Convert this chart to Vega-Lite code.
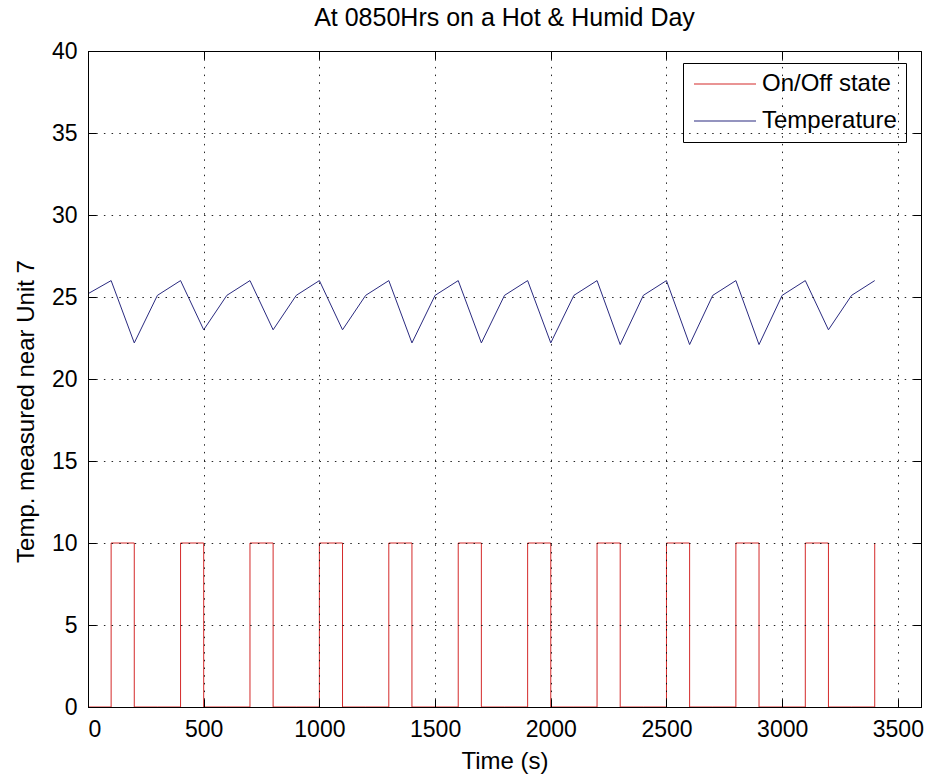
{
  "$schema": "https://vega.github.io/schema/vega-lite/v6.json",
  "width": 833,
  "height": 656,
  "autosize": {"type": "none"},
  "padding": {"left": 88, "top": 51, "right": 6, "bottom": 74},
  "background": "white",
  "title": {"text": "At 0850Hrs on a Hot & Humid Day", "fontSize": 25, "font": "Liberation Sans", "fontWeight": "normal", "color": "#000", "offset": 9, "anchor": "middle"},
  "config": {
    "view": {"stroke": "#000", "strokeWidth": 1},
    "font": "Liberation Sans",
    "axis": {"labelFont": "Liberation Sans", "titleFont": "Liberation Sans", "labelColor": "#000", "titleColor": "#000", "labelFontSize": 23, "titleFontSize": 24, "titleFontWeight": "normal", "domainColor": "#000", "tickColor": "#000", "tickSize": -8, "labelPadding": 19, "gridColor": "#000", "gridOpacity": 0.85, "gridDash": [1.5, 6.2], "gridWidth": 1}
  },
  "data": {"values": [
    {"t": 0, "onoff": 0, "temp": 25.2},
    {"t": 100, "onoff": 10, "temp": 26},
    {"t": 200, "onoff": 0, "temp": 22.2},
    {"t": 300, "onoff": 0, "temp": 25.1},
    {"t": 400, "onoff": 10, "temp": 26},
    {"t": 500, "onoff": 0, "temp": 23},
    {"t": 600, "onoff": 0, "temp": 25.1},
    {"t": 700, "onoff": 10, "temp": 26},
    {"t": 800, "onoff": 0, "temp": 23},
    {"t": 900, "onoff": 0, "temp": 25.1},
    {"t": 1000, "onoff": 10, "temp": 26},
    {"t": 1100, "onoff": 0, "temp": 23},
    {"t": 1200, "onoff": 0, "temp": 25.1},
    {"t": 1300, "onoff": 10, "temp": 26},
    {"t": 1400, "onoff": 0, "temp": 22.2},
    {"t": 1500, "onoff": 0, "temp": 25.1},
    {"t": 1600, "onoff": 10, "temp": 26},
    {"t": 1700, "onoff": 0, "temp": 22.2},
    {"t": 1800, "onoff": 0, "temp": 25.1},
    {"t": 1900, "onoff": 10, "temp": 26},
    {"t": 2000, "onoff": 0, "temp": 22.2},
    {"t": 2100, "onoff": 0, "temp": 25.1},
    {"t": 2200, "onoff": 10, "temp": 26},
    {"t": 2300, "onoff": 0, "temp": 22.1},
    {"t": 2400, "onoff": 0, "temp": 25.1},
    {"t": 2500, "onoff": 10, "temp": 26},
    {"t": 2600, "onoff": 0, "temp": 22.1},
    {"t": 2700, "onoff": 0, "temp": 25.1},
    {"t": 2800, "onoff": 10, "temp": 26},
    {"t": 2900, "onoff": 0, "temp": 22.1},
    {"t": 3000, "onoff": 0, "temp": 25.1},
    {"t": 3100, "onoff": 10, "temp": 26},
    {"t": 3200, "onoff": 0, "temp": 23},
    {"t": 3300, "onoff": 0, "temp": 25.1},
    {"t": 3400, "onoff": 10, "temp": 26}
  ]},
  "layer": [
    {
      "transform": [{"fold": ["onoff"], "as": ["series", "value"]}],
      "mark": {"type": "line", "interpolate": "step-after", "strokeWidth": 1},
      "encoding": {
        "x": {"field": "t", "type": "quantitative", "scale": {"domain": [0, 3600], "nice": false},
              "axis": {"orient": "top", "labels": false, "grid": false, "title": null, "values": [0, 500, 1000, 1500, 2000, 2500, 3000, 3500], "domain": false}},
        "y": {"field": "value", "type": "quantitative", "scale": {"domain": [0, 40], "nice": false},
              "axis": {"orient": "right", "labels": false, "grid": false, "title": null, "values": [0, 5, 10, 15, 20, 25, 30, 35, 40], "domain": false}},
        "color": {"field": "series", "type": "nominal",
                  "scale": {"domain": ["onoff", "temp"], "range": ["#d42a2a", "#2a2a80"]},
                  "legend": {"title": null, "orient": "none", "legendX": 595, "legendY": 12, "fillColor": "white", "strokeColor": "#000", "padding": 9, "symbolType": "M-1,0H5.2", "symbolSize": 400, "symbolStrokeWidth": 1.2, "labelFont": "Liberation Sans", "labelFontSize": 24, "labelColor": "#000", "labelOffset": 46, "rowPadding": 13,
                             "labelExpr": "datum.label == 'onoff' ? 'On/Off state' : 'Temperature'"}}
      }
    },
    {
      "transform": [{"fold": ["temp"], "as": ["series", "value"]}],
      "mark": {"type": "line", "strokeWidth": 1},
      "encoding": {
        "x": {"field": "t", "type": "quantitative", "title": "Time (s)",
              "axis": {"orient": "bottom", "grid": true, "zindex": 1, "format": "d", "values": [0, 500, 1000, 1500, 2000, 2500, 3000, 3500], "titlePadding": 8}},
        "y": {"field": "value", "type": "quantitative", "title": "Temp. measured near Unit 7",
              "axis": {"orient": "left", "grid": true, "zindex": 1, "format": "d", "values": [0, 5, 10, 15, 20, 25, 30, 35, 40], "titlePadding": 13, "titleY": 360}},
        "color": {"field": "series", "type": "nominal"}
      }
    }
  ],
  "resolve": {"axis": {"x": "independent", "y": "independent"}}
}
